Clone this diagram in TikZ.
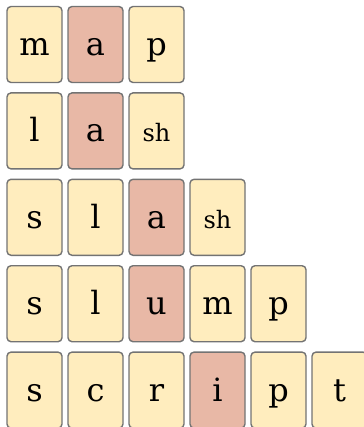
\documentclass[tikz,border=0pt]{standalone}
\usepackage{fontspec}
\setmainfont{DejaVu Serif}
\definecolor{cardyel}{RGB}{255,237,190}
\definecolor{cardred}{RGB}{232,184,166}
\definecolor{cardedge}{RGB}{115,115,115}
\tikzset{
  crd/.style={draw=cardedge, line width=0.7pt, fill=cardyel, rounded corners=2pt, inner sep=0pt,
              minimum width=27.5pt, minimum height=38pt,
              text height=13pt, text depth=2pt, font=\fontsize{16}{19}\selectfont},
  vcrd/.style={crd, fill=cardred},
  shcrd/.style={crd, font=\fontsize{12}{14}\selectfont},
}

\begin{document}
\begin{tikzpicture}[x=0.5pt, y=-0.5pt]
        \useasboundingbox (0,0) rectangle (363,427);
        % one row per word, the vowel card is the red one
        \foreach \ltr/\sty [count=\i] in {m/crd, a/vcrd, p/crd}
          \node[\sty] (map\i) at (61*\i-26.5, 44.5) {\ltr};
        \foreach \ltr/\sty [count=\i] in {l/crd, a/vcrd, sh/shcrd}
          \node[\sty] (lash\i) at (61*\i-26.5, 130.9) {\ltr};
        \foreach \ltr/\sty [count=\i] in {s/crd, l/crd, a/vcrd, sh/shcrd}
          \node[\sty] (slash\i) at (61*\i-26.5, 217.3) {\ltr};
        \foreach \ltr/\sty [count=\i] in {s/crd, l/crd, u/vcrd, m/crd, p/crd}
          \node[\sty] (slump\i) at (61*\i-26.5, 303.7) {\ltr};
        \foreach \ltr/\sty [count=\i] in {s/crd, c/crd, r/crd, i/vcrd, p/crd, t/crd}
          \node[\sty] (script\i) at (61*\i-26.5, 390.1) {\ltr};
      \end{tikzpicture}
\end{document}
